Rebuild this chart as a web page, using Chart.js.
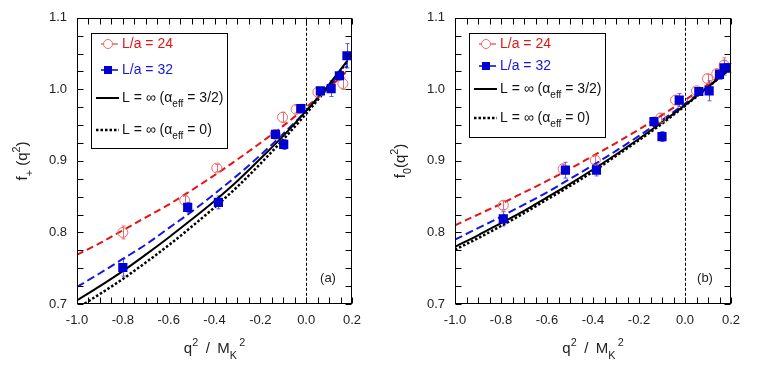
<!DOCTYPE html>
<html>
<head>
<meta charset="utf-8">
<script src="https://cdn.jsdelivr.net/npm/chart.js@4.4.1/dist/chart.umd.min.js"></script>
<style>
  html, body { margin: 0; padding: 0; background: #fff; }
  #wrap { position: relative; width: 758px; height: 374px; }
  canvas { position: absolute; top: 0; }
</style>
</head>
<body>
<div id="wrap">
  <canvas id="chartA" width="379" height="374" style="left:0"></canvas>
  <canvas id="chartB" width="380" height="374" style="left:378px"></canvas>
</div>
<script>
// x positions of the fit curves
var qCurve = [-1.0, -0.9, -0.8, -0.7, -0.6, -0.5, -0.4, -0.3, -0.2, -0.1, 0.0, 0.1, 0.18];

// panel (a): f+(q^2)
var fpFit24  = [0.769, 0.785, 0.803, 0.821, 0.839, 0.859, 0.880, 0.902, 0.925, 0.949, 0.975, 1.002, 1.026];
var fpFit32  = [0.724, 0.743, 0.763, 0.783, 0.806, 0.829, 0.854, 0.880, 0.908, 0.938, 0.970, 1.004, 1.033];
var fpInfA32 = [0.705, 0.725, 0.746, 0.769, 0.793, 0.818, 0.844, 0.872, 0.903, 0.935, 0.970, 1.007, 1.040];
var fpInfA0  = [0.694, 0.714, 0.735, 0.758, 0.782, 0.808, 0.835, 0.864, 0.896, 0.930, 0.966, 1.005, 1.039];

var qA24 = [-0.80, -0.53, -0.39, -0.135, -0.103, -0.044, 0.051, 0.160];
var fA24 = [0.800, 0.845, 0.890, 0.937, 0.961, 0.972, 0.996, 1.008];
var eA24 = [0.009, 0.006, 0.005, 0.005, 0.007, 0.005, 0.004, 0.008];

var qA32 = [-0.80, -0.517, -0.383, -0.134, -0.098, -0.023, 0.062, 0.109, 0.145, 0.178];
var fA32 = [0.751, 0.835, 0.842, 0.937, 0.923, 0.973, 0.998, 1.001, 1.019, 1.047];
var eA32 = [0.012, 0.007, 0.009, 0.005, 0.007, 0.006, 0.004, 0.011, 0.006, 0.017];

// panel (b): f0(q^2)
var f0Fit24  = [0.810, 0.825, 0.840, 0.856, 0.872, 0.889, 0.907, 0.925, 0.944, 0.964, 0.985, 1.007, 1.025];
var f0Fit32  = [0.790, 0.806, 0.822, 0.839, 0.856, 0.875, 0.894, 0.914, 0.935, 0.957, 0.980, 1.004, 1.024];
var f0InfA32 = [0.780, 0.796, 0.813, 0.830, 0.849, 0.868, 0.888, 0.909, 0.931, 0.954, 0.978, 1.003, 1.025];
var f0InfA0  = [0.776, 0.792, 0.809, 0.827, 0.846, 0.865, 0.885, 0.907, 0.929, 0.952, 0.977, 1.003, 1.025];

var qB24 = [-0.79, -0.53, -0.39, -0.106, -0.041, 0.050, 0.098, 0.138, 0.170];
var fB24 = [0.838, 0.889, 0.901, 0.960, 0.985, 0.998, 1.015, 1.022, 1.034];
var eB24 = [0.006, 0.006, 0.006, 0.006, 0.006, 0.005, 0.006, 0.006, 0.010];

var qB32 = [-0.79, -0.52, -0.385, -0.135, -0.100, -0.025, 0.060, 0.105, 0.150, 0.170, 0.190];
var fB32 = [0.819, 0.887, 0.887, 0.955, 0.934, 0.985, 0.997, 0.998, 1.021, 1.030, 1.030];
var eB32 = [0.010, 0.011, 0.008, 0.006, 0.007, 0.009, 0.005, 0.014, 0.007, 0.010, 0.006];

var xTicks = ['-1.0', '-0.8', '-0.6', '-0.4', '-0.2', '0.0', '0.2'];
var yTicks = ['0.7', '0.8', '0.9', '1.0', '1.1'];

var RED = 'rgb(228,20,20)', RED_LIGHT = 'rgb(240,105,105)';
var BLUE = 'rgb(20,20,230)', BLUE_FILL = 'rgb(0,0,210)', BLUE_LIGHT = 'rgb(90,90,240)';
var FONT = "'Liberation Sans', Arial, sans-serif";

function pts(xs, ys) {
  return xs.map(function (x, i) { return { x: x, y: ys[i] }; });
}

function drawRich(ctx, parts, x, y, size) {
  parts.forEach(function (p) {
    var s = p.sub || p.sup ? size * 0.72 : size;
    var dy = p.sub ? size * 0.42 : (p.sup ? -size * 0.45 : 0);
    ctx.font = s + 'px ' + FONT;
    ctx.fillText(p.t, x, y + dy);
    x += ctx.measureText(p.t).width;
  });
  return x;
}
function richWidth(ctx, parts, size) {
  var w = 0;
  parts.forEach(function (p) {
    var s = p.sub || p.sup ? size * 0.72 : size;
    ctx.font = s + 'px ' + FONT;
    w += ctx.measureText(p.t).width;
  });
  return w;
}

var panelDeco = {
  id: 'panelDeco',
  beforeDatasetsDraw: function (chart, args, o) {
    var ctx = chart.ctx, xs = chart.scales.x, ys = chart.scales.y, a = chart.chartArea;
    ctx.save();
    // q^2 = 0 marker
    var x0 = Math.round(xs.getPixelForValue(0)) + 0.5;
    ctx.strokeStyle = '#000';
    ctx.lineWidth = 1;
    ctx.setLineDash([3, 2]);
    ctx.beginPath(); ctx.moveTo(x0, a.top); ctx.lineTo(x0, a.bottom); ctx.stroke();
    ctx.setLineDash([]);
    // error bars
    o.errors.forEach(function (e) {
      var ds = chart.data.datasets[e.ds];
      ctx.strokeStyle = e.color;
      ctx.lineWidth = 1;
      ds.data.forEach(function (p, i) {
        var px = Math.round(xs.getPixelForValue(p.x)) + 0.5;
        var y1 = ys.getPixelForValue(p.y - e.err[i]), y2 = ys.getPixelForValue(p.y + e.err[i]);
        ctx.beginPath();
        ctx.moveTo(px, y1); ctx.lineTo(px, y2);
        ctx.moveTo(px - 2, y1); ctx.lineTo(px + 2, y1);
        ctx.moveTo(px - 2, y2); ctx.lineTo(px + 2, y2);
        ctx.stroke();
      });
    });
    ctx.restore();
  },
  afterDraw: function (chart, args, o) {
    var ctx = chart.ctx, xs = chart.scales.x, ys = chart.scales.y, a = chart.chartArea;
    ctx.save();
    // frame and inward ticks on all four sides
    ctx.strokeStyle = '#000';
    ctx.lineWidth = 1;
    var L = Math.round(a.left) + 0.5, R = Math.round(a.right) - 0.5;
    var T = Math.round(a.top) + 0.5, B = Math.round(a.bottom) - 0.5;
    ctx.strokeRect(L, T, R - L, B - T);
    ctx.beginPath();
    var i, v, p;
    for (i = 0; i <= 24; i++) {
      v = -1 + i * 0.05;
      p = Math.round(xs.getPixelForValue(v)) + 0.5;
      ctx.moveTo(p, B); ctx.lineTo(p, B - 6);
      ctx.moveTo(p, T); ctx.lineTo(p, T + 6);
    }
    for (i = 0; i <= 16; i++) {
      v = 0.7 + i * 0.025;
      p = Math.round(ys.getPixelForValue(v)) + 0.5;
      ctx.moveTo(L, p); ctx.lineTo(L + 6, p);
      ctx.moveTo(R, p); ctx.lineTo(R - 6, p);
    }
    ctx.stroke();

    // legend box
    var lb = o.legend;
    ctx.lineWidth = 1;
    ctx.strokeStyle = '#000';
    ctx.strokeRect(lb.x + 0.5, lb.y + 0.5, lb.w, lb.h);
    ctx.textBaseline = 'middle';
    ctx.textAlign = 'left';
    var ds = chart.data.datasets;
    lb.rows.forEach(function (r, k) {
      var y = lb.rowY[k];
      var d = ds[r.ds];
      ctx.save();
      if (r.kind === 'circle' || r.kind === 'square') {
        ctx.strokeStyle = d.borderColor;
        ctx.lineWidth = 1.5;
        ctx.beginPath(); ctx.moveTo(lb.x + 10, y); ctx.lineTo(lb.x + 27, y); ctx.stroke();
        if (r.kind === 'circle') {
          ctx.fillStyle = '#fff';
          ctx.lineWidth = 1;
          ctx.beginPath(); ctx.arc(lb.x + 17, y, 4.5, 0, Math.PI * 2); ctx.fill(); ctx.stroke();
        } else {
          ctx.fillStyle = d.backgroundColor;
          ctx.fillRect(lb.x + 13, y - 4, 8, 8);
        }
      } else {
        ctx.strokeStyle = '#000';
        ctx.lineWidth = r.kind === 'dotted' ? 2.5 : 2;
        ctx.setLineDash(r.kind === 'dotted' ? [2.5, 2] : []);
        ctx.beginPath(); ctx.moveTo(lb.x + 5, y); ctx.lineTo(lb.x + 28, y); ctx.stroke();
      }
      ctx.restore();
      ctx.fillStyle = r.color;
      drawRich(ctx, r.text, lb.x + 31, y, 14);
    });

    // panel tag
    ctx.fillStyle = '#222';
    ctx.textAlign = 'center';
    ctx.font = '13px ' + FONT;
    ctx.fillText(o.tag, o.tagX, a.bottom - 26);

    // axis titles
    ctx.textAlign = 'left';
    ctx.textBaseline = 'alphabetic';
    var xt = [{ t: 'q' }, { t: '2', sup: true }, { t: '\u2002/\u2002M' }, { t: 'K', sub: true }, { t: '\u20092', sup: true }];
    var w = richWidth(ctx, xt, 15);
    var cx = (a.left + a.right) / 2;
    drawRich(ctx, xt, cx - w / 2, 353, 15);

    var yt = o.yTitle;
    w = richWidth(ctx, yt, 15);
    ctx.translate(27, (a.top + a.bottom) / 2);
    ctx.rotate(-Math.PI / 2);
    drawRich(ctx, yt, -w / 2, 0, 15);
    ctx.restore();
  }
};

function makeChart(id, curves, s24, s32, tag, tagX, yTitle, legend) {
  var tickFont = { family: FONT, size: 13 };
  return new Chart(document.getElementById(id), {
    type: 'scatter',
    data: {
      datasets: [
        { data: pts(qCurve, curves[0]), showLine: true, pointRadius: 0, borderColor: RED, borderWidth: 2,
          borderDash: [7, 4], cubicInterpolationMode: 'monotone', clip: 0, order: 5 },
        { data: pts(qCurve, curves[1]), showLine: true, pointRadius: 0, borderColor: BLUE, borderWidth: 2,
          borderDash: [8, 4], cubicInterpolationMode: 'monotone', clip: 0, order: 4 },
        { data: pts(qCurve, curves[2]), showLine: true, pointRadius: 0, borderColor: '#000', borderWidth: 2,
          cubicInterpolationMode: 'monotone', clip: 0, order: 3 },
        { data: pts(qCurve, curves[3]), showLine: true, pointRadius: 0, borderColor: '#000', borderWidth: 2.5,
          borderDash: [2.5, 2], cubicInterpolationMode: 'monotone', clip: 0, order: 2 },
        { data: pts(s24[0], s24[1]), pointStyle: 'circle', pointRadius: 5, borderWidth: 1,
          borderColor: RED_LIGHT, backgroundColor: 'rgba(255,255,255,0)', order: 1 },
        { data: pts(s32[0], s32[1]), pointStyle: 'rect', pointRadius: 6.5, borderWidth: 0,
          borderColor: BLUE_FILL, backgroundColor: BLUE_FILL, order: 0 }
      ]
    },
    options: {
      responsive: false,
      animation: false,
      devicePixelRatio: 1,
      layout: { padding: { top: 17, right: 27, left: 0, bottom: 0 } },
      plugins: {
        legend: { display: false },
        tooltip: { enabled: false },
        panelDeco: {
          errors: [
            { ds: 4, err: s24[2], color: RED_LIGHT },
            { ds: 5, err: s32[2], color: BLUE_LIGHT }
          ],
          tag: tag, tagX: tagX, yTitle: yTitle, legend: legend
        }
      },
      scales: {
        x: {
          type: 'linear', min: -1, max: 0.2,
          grid: { display: false, drawTicks: false },
          border: { display: false },
          ticks: { stepSize: 0.2, padding: 9, color: '#222', font: tickFont, maxRotation: 0,
            callback: function (v, i) { return xTicks[i]; } },
          afterFit: function (s) { s.height = 70; }
        },
        y: {
          type: 'linear', min: 0.7, max: 1.1,
          grid: { display: false, drawTicks: false },
          border: { display: false },
          ticks: { stepSize: 0.1, padding: 10, color: '#222', font: tickFont,
            callback: function (v, i) { return yTicks[i]; } },
          afterFit: function (s) { s.width = 77; }
        }
      }
    },
    plugins: [panelDeco]
  });
}

function legendRows(y) {
  return {
    x: 91, y: 33, w: 136, h: y[4],
    rowY: y.slice(0, 4),
    rows: [
      { ds: 4, kind: 'circle', color: RED, text: [{ t: 'L/a = 24' }] },
      { ds: 5, kind: 'square', color: BLUE, text: [{ t: 'L/a = 32' }] },
      { ds: 2, kind: 'solid', color: '#111', text: [{ t: 'L = \u221E (\u03B1' }, { t: 'eff', sub: true }, { t: ' = 3/2)' }] },
      { ds: 3, kind: 'dotted', color: '#111', text: [{ t: 'L = \u221E (\u03B1' }, { t: 'eff', sub: true }, { t: ' = 0)' }] }
    ]
  };
}

makeChart('chartA', [fpFit24, fpFit32, fpInfA32, fpInfA0],
  [qA24, fA24, eA24], [qA32, fA32, eA32], '(a)', 328,
  [{ t: 'f' }, { t: '+', sub: true }, { t: ' (q' }, { t: '2', sup: true }, { t: ')' }],
  legendRows([44, 70, 98, 130, 115]));

makeChart('chartB', [f0Fit24, f0Fit32, f0InfA32, f0InfA0],
  [qB24, fB24, eB24], [qB32, fB32, eB32], '(b)', 327,
  [{ t: 'f' }, { t: '0', sub: true }, { t: '(q' }, { t: '2', sup: true }, { t: ')' }],
  legendRows([44, 66, 89, 118, 104]));
</script>
</body>
</html>
